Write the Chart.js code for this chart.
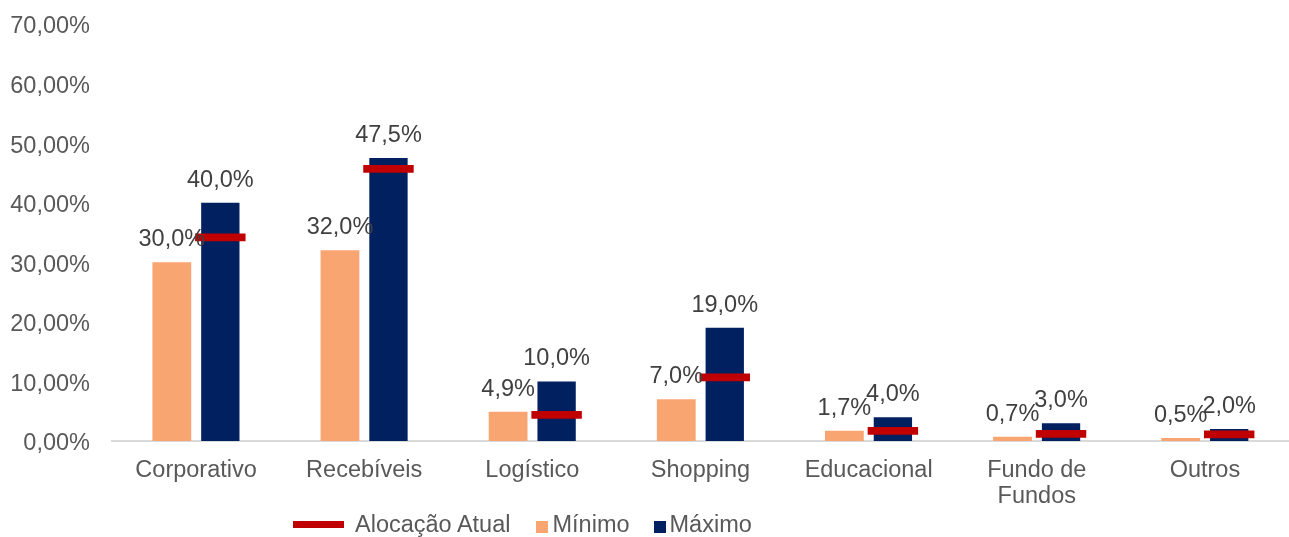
<!DOCTYPE html>
<html>
<head>
<meta charset="utf-8">
<script src="https://cdn.jsdelivr.net/npm/chart.js@4.4.1/dist/chart.umd.min.js"></script>
<style>
  html, body { margin: 0; padding: 0; background: #fff; }
  #wrap { position: relative; width: 1289px; height: 537px; }
  #legend {
    position: absolute; left: 293px; top: 513px;
    display: flex; align-items: center;
    font: 23.5px "Liberation Sans", Arial, sans-serif; line-height: 1;
    color: #595959; white-space: nowrap;
  }
  .line { width: 51px; height: 7px; background: #C00000; margin-right: 11px; }
  .box { width: 12px; height: 12px; margin-right: 4px; margin-top: 5px; }
</style>
</head>
<body>
<div id="wrap">
  <canvas id="myChart"></canvas>
  <div id="legend">
    <span class="line"></span><span>Alocação Atual</span>
    <span class="box" style="background:#F8A572;margin-left:26px"></span><span>Mínimo</span>
    <span class="box" style="background:#002060;margin-left:24px"></span><span>Máximo</span>
  </div>
</div>
<script>
const categories = ['Corporativo', 'Recebíveis', 'Logístico', 'Shopping', 'Educacional', ['Fundo de', 'Fundos'], 'Outros'];
const minimo = [30.0, 32.0, 4.9, 7.0, 1.7, 0.7, 0.5];
const maximo = [40.0, 47.5, 10.0, 19.0, 4.0, 3.0, 2.0];
const atual = [34.2, 45.7, 4.4, 10.7, 1.7, 1.2, 1.1];
const yTicks = [0, 10, 20, 30, 40, 50, 60, 70];

const FONT = '"Liberation Sans", Arial, sans-serif';
const half = 0.65; // half thickness of the marker, in percentage points

const fmt = (v, d) => v.toFixed(d).replace('.', ',') + '%';

const valueLabels = {
  id: 'valueLabels',
  afterDatasetsDraw(chart) {
    const ctx = chart.ctx;
    ctx.save();
    ctx.font = '23.5px ' + FONT;
    ctx.fillStyle = '#404040';
    ctx.textAlign = 'center';
    ctx.textBaseline = 'alphabetic';
    chart.data.datasets.forEach((ds, i) => {
      if (!ds.showValues) return;
      chart.getDatasetMeta(i).data.forEach((bar, j) => {
        ctx.fillText(fmt(ds.data[j], 1), bar.x, bar.y - 16);
      });
    });
    ctx.restore();
  }
};

new Chart(document.getElementById('myChart'), {
  type: 'bar',
  data: {
    labels: categories,
    datasets: [
      {
        label: 'Mínimo',
        data: minimo,
        backgroundColor: '#F8A572',
        stack: 'min',
        categoryPercentage: 0.577,
        barPercentage: 0.8,
        showValues: true
      },
      {
        label: 'Alocação Atual',
        data: atual.map(v => [v - half, v + half]),
        backgroundColor: '#C00000',
        stack: 'max',
        categoryPercentage: 0.577,
        barPercentage: 1.04
      },
      {
        label: 'Máximo',
        data: maximo,
        backgroundColor: '#002060',
        stack: 'max',
        categoryPercentage: 0.577,
        barPercentage: 0.79,
        showValues: true
      }
    ]
  },
  options: {
    responsive: true,
    maintainAspectRatio: false,
    animation: false,
    layout: { padding: { top: 24, left: 0, right: 0, bottom: 0 } },
    plugins: {
      legend: { display: false },
      tooltip: { enabled: false }
    },
    scales: {
      x: {
        grid: { display: false, drawTicks: false },
        border: { display: true, color: '#D9D9D9', width: 2 },
        ticks: {
          color: '#595959',
          padding: 16,
          font: { family: FONT, size: 23.5, lineHeight: 1.12 },
          maxRotation: 0,
          autoSkip: false
        },
        afterFit(scale) { scale.height = 96; }
      },
      y: {
        stacked: false,
        min: 0,
        max: 70,
        afterBuildTicks(scale) { scale.ticks = yTicks.map(v => ({ value: v })); },
        grid: { display: false, drawTicks: false },
        border: { display: false },
        ticks: {
          color: '#595959',
          padding: 22,
          labelOffset: 3,
          font: { family: FONT, size: 23.5 },
          callback: v => fmt(v, 2)
        },
        afterFit(scale) {
          scale.width = 112;
          scale.paddingTop = 0;
          scale.paddingBottom = 0;
        }
      }
    }
  },
  plugins: [valueLabels]
});
</script>
</body>
</html>
